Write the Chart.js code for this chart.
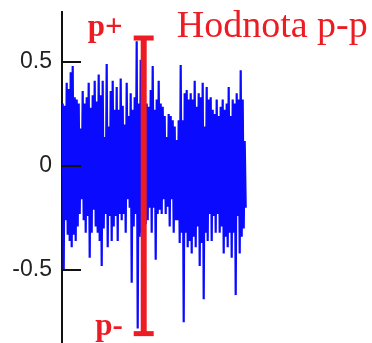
<!DOCTYPE html>
<html>
<head>
<meta charset="utf-8">
<script src="https://cdn.jsdelivr.net/npm/chart.js@4.4.1/dist/chart.umd.min.js"></script>
<style>
  html, body { margin: 0; padding: 0; background: #fff; }
  canvas { display: block; }
</style>
</head>
<body>
<canvas id="ppChart" width="372" height="343"></canvas>
<script>
// signal samples (alternating peak / trough, one per pixel)
var signal = [
  0.30, -0.50, 0.29, -0.26, 0.40, -0.33, 0.37, -0.36, 0.45, -0.39,
  0.48, -0.33, 0.33, -0.36, 0.32, -0.29, 0.30, -0.23, 0.18, -0.16,
  0.36, -0.26, 0.30, -0.32, 0.33, -0.24, 0.40, -0.44, 0.28, -0.32,
  0.34, -0.21, 0.41, -0.29, 0.31, -0.32, 0.44, -0.36, 0.34, -0.48,
  0.41, -0.30, 0.14, -0.23, 0.49, -0.39, 0.19, -0.24, 0.36, -0.36,
  0.41, -0.29, 0.27, -0.24, 0.38, -0.36, 0.27, -0.23, 0.42, -0.26,
  0.29, -0.23, 0.20, -0.32, 0.40, -0.16, 0.24, -0.20, 0.35, -0.56,
  0.27, -0.29, 0.33, -0.23, 0.60, -0.78, 0.30, -0.34, 0.51, -0.32,
  0.30, -0.30, 0.28, -0.28, 0.30, -0.26, 0.285, -0.20, 0.365, -0.32,
  0.48, -0.20, 0.27, -0.45, 0.32, -0.23, 0.41, -0.21, 0.30, -0.23,
  0.285, -0.16, 0.24, -0.23, 0.14, -0.195, 0.25, -0.29, 0.24, -0.16,
  0.22, -0.32, 0.19, -0.26, 0.125, -0.26, 0.22, -0.37, 0.485, -0.32,
  0.22, -0.75, 0.35, -0.32, 0.365, -0.39, 0.32, -0.36, 0.35, -0.42,
  0.32, -0.34, 0.41, -0.39, 0.285, -0.29, 0.35, -0.48, 0.33, -0.37,
  0.40, -0.64, 0.19, -0.32, 0.38, -0.36, 0.32, -0.23, 0.33, -0.36,
  0.27, -0.24, 0.25, -0.32, 0.32, -0.23, 0.24, -0.32, 0.285, -0.29,
  0.32, -0.42, 0.27, -0.34, 0.30, -0.39, 0.38, -0.32, 0.24, -0.44,
  0.32, -0.32, 0.30, -0.62, 0.35, -0.24, 0.32, -0.42, 0.46, -0.34,
  0.32, -0.30, 0.12, -0.20
];

// y axis tick labels
var tickValues = [0.5, 0, -0.5];

// peak-to-peak marker
var peakValues = [0.615, -0.805];   // p+ and p-
var peakLabels = ['p+', 'p-'];
var markerTitle = 'Hodnota p-p';
var markerAt = 81;                  // sample index where the bar stands

var red = 'rgb(237,28,36)';
var blue = 'rgb(10,10,255)';

// inner tick marks and the red texts
var annotate = {
  id: 'annotate',
  afterDraw: function(chart) {
    var ctx = chart.ctx;
    var area = chart.chartArea;
    var ys = chart.scales.y;
    var xs = chart.scales.x;

    ctx.save();
    ctx.strokeStyle = '#111';
    ctx.lineWidth = 2;
    ctx.beginPath();
    tickValues.forEach(function(v) {
      var py = Math.round(ys.getPixelForValue(v));
      ctx.moveTo(area.left, py);
      ctx.lineTo(area.left + 19, py);
    });
    ctx.stroke();

    var bx = xs.getPixelForValue(markerAt);
    var topY = ys.getPixelForValue(peakValues[0]);
    var botY = ys.getPixelForValue(peakValues[1]);

    ctx.fillStyle = red;
    ctx.textAlign = 'right';
    ctx.textBaseline = 'alphabetic';
    ctx.font = 'bold 31px "Liberation Serif", serif';
    ctx.fillText(peakLabels[0], bx - 21, topY - 2);
    ctx.fillText(peakLabels[1], bx - 21, botY + 1);

    ctx.textAlign = 'left';
    ctx.font = '38px "Liberation Serif", serif';
    ctx.fillText(markerTitle, bx + 33, topY - 1);
    ctx.restore();
  }
};

var ctx = document.getElementById('ppChart').getContext('2d');

var myChart = new Chart(ctx, {
  type: 'line',
  data: {
    datasets: [{
      // red bar with caps
      data: peakValues.map(function(v) { return { x: markerAt, y: v }; }),
      borderColor: red,
      borderWidth: 6,
      pointStyle: 'line',
      pointRadius: 10,
      pointBorderWidth: 5,
      pointBorderColor: red,
      clip: false,
      order: 0
    }, {
      data: signal.map(function(v, i) { return { x: i, y: v }; }),
      borderColor: blue,
      borderWidth: 2.2,
      pointRadius: 0,
      tension: 0,
      order: 1
    }]
  },
  options: {
    responsive: false,
    animation: false,
    events: [],
    layout: { autoPadding: false, padding: { top: 12, right: 0, bottom: 0, left: 0 } },
    plugins: {
      legend: { display: false },
      tooltip: { enabled: false }
    },
    scales: {
      x: {
        type: 'linear',
        display: false,
        min: -0.7,
        max: 309.3
      },
      y: {
        type: 'linear',
        min: -0.85,
        max: 0.74,
        afterBuildTicks: function(scale) {
          scale.ticks = tickValues.map(function(v) { return { value: v }; });
        },
        afterFit: function(scale) {
          scale.width = 62;
          scale.paddingTop = 0;
          scale.paddingBottom = 0;
        },
        border: { display: true, color: '#111', width: 2 },
        grid: { display: false, drawTicks: false },
        ticks: {
          padding: 10,
          color: '#222',
          font: { family: '"Liberation Sans", Arial, sans-serif', size: 23 },
          callback: function(v) { return String(v); }
        }
      }
    }
  },
  plugins: [annotate]
});
</script>
</body>
</html>
